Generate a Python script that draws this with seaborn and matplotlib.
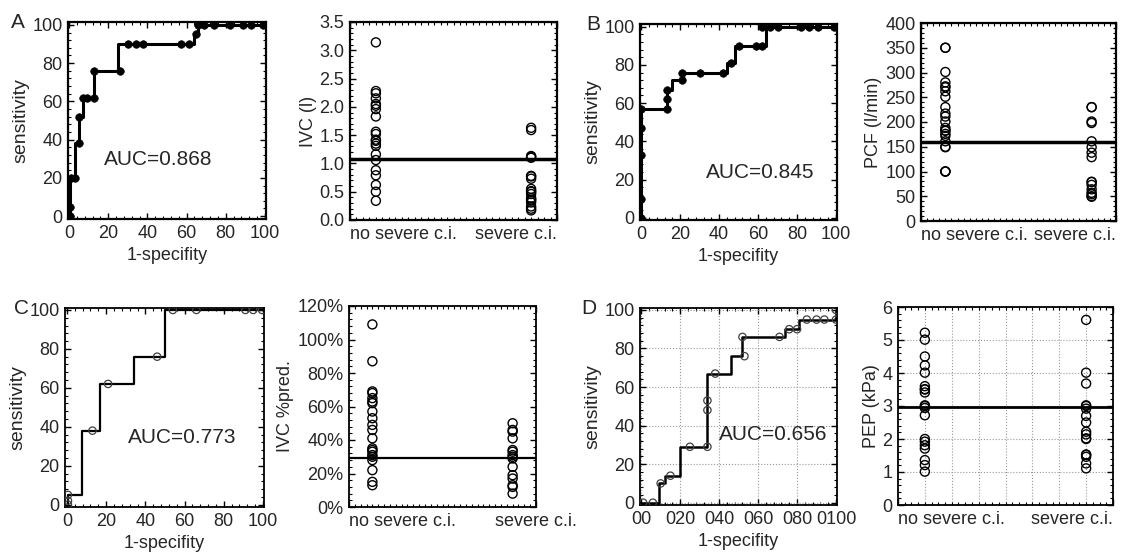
import numpy as np
import pandas as pd
import matplotlib
matplotlib.use("Agg")
import matplotlib.pyplot as plt
import seaborn as sns
from matplotlib.ticker import AutoMinorLocator, MultipleLocator, FuncFormatter

sns.set_theme(style="ticks")
plt.rcParams["font.family"] = ["Liberation Sans", "DejaVu Sans"]

groups = ["no severe c.i.", "severe c.i."]

# ROC step curves (1-specificity, sensitivity) and marked cut-off points
rocA_x = [0.5, 0.5, 3, 3, 5, 5, 7, 7, 13, 13, 25, 25, 64, 64, 66, 66, 100]
rocA_y = [0, 20, 20, 38, 38, 52, 52, 62, 62, 76, 76, 90, 90, 95, 95, 100, 100]
dotA_x = [0.5, 0.5, 1, 3, 5, 5, 7, 9, 13, 13, 26, 30, 34, 38, 57, 61, 65, 66, 69, 74, 82, 89, 93, 99]
dotA_y = [0, 5, 20, 20, 38, 52, 62, 62, 62, 76, 76, 90, 90, 90, 90, 90, 95, 100, 100, 100, 100, 100, 100, 100]
aucA = "AUC=0.868"

rocB_x = [0, 0, 13, 13, 16, 16, 21, 21, 44, 44, 48, 48, 64, 64, 100]
rocB_y = [0, 57, 57, 67, 67, 72, 72, 76, 76, 81, 81, 90, 90, 100, 100]
dotB_x = [0, 0, 0, 0, 0, 13, 13, 13, 21, 21, 30, 42, 46, 50, 59, 62, 62, 66, 70, 82, 86, 91, 99]
dotB_y = [0, 10, 33, 47, 57, 57, 62, 67, 72, 76, 76, 76, 81, 90, 90, 90, 100, 100, 100, 100, 100, 100, 100]
aucB = "AUC=0.845"

rocC_x = [0.5, 0.5, 7.5, 7.5, 17, 17, 34, 34, 50, 50, 100]
rocC_y = [0, 5, 5, 38, 38, 62, 62, 76, 76, 100, 100]
dotC_x = [0.5, 0.5, 0.5, 13, 21, 46, 54, 66, 91, 95, 99.5]
dotC_y = [0, 2, 5, 38, 62, 76, 100, 100, 100, 100, 100]
aucC = "AUC=0.773"

rocD_x = [0, 9, 9, 12, 12, 20, 20, 34, 34, 46, 46, 52, 52, 74, 74, 81, 81, 100, 100]
rocD_y = [0, 0, 10, 10, 14, 14, 29, 29, 67, 67, 76, 76, 86, 86, 90, 90, 95, 95, 100]
dotD_x = [1, 6, 10, 15, 25, 34, 34, 34, 38, 53, 52, 71, 76, 80, 85, 90, 94, 100, 100]
dotD_y = [0, 0, 10, 14, 29, 29, 48, 53, 67, 76, 86, 86, 90, 90, 95, 95, 95, 95, 100]
aucD = "AUC=0.656"
rocD_ticklabels = ["00", "020", "040", "060", "080", "0100"]

# individual patient values per group, plus the cut-off line
ivc_no = [3.14, 2.28, 2.24, 2.15, 2.05, 2.02, 1.96, 1.83, 1.56, 1.52, 1.42, 1.40,
          1.35, 1.31, 1.16, 1.06, 0.88, 0.79, 0.62, 0.50, 0.34]
ivc_sev = [1.63, 1.59, 1.13, 1.12, 1.10, 0.78, 0.77, 0.73, 0.55, 0.51, 0.50, 0.46,
           0.39, 0.36, 0.35, 0.31, 0.24, 0.20, 0.17]
ivc_cut = 1.08

pcf_no = [350, 350, 301, 280, 270, 272, 262, 251, 230, 217, 211, 201, 188, 183,
          182, 176, 172, 161, 149, 150, 100, 100, 100]
pcf_sev = [230, 230, 201, 198, 161, 149, 138, 129, 79, 79, 73, 64, 57, 54, 49, 50]
pcf_cut = 159

ivcp_no = [109, 87, 69, 68, 65, 63, 62, 57, 53, 49, 46, 41, 35, 34, 33, 31, 30,
           28, 22, 15, 13]
ivcp_sev = [50, 46, 45, 41, 34, 33, 31, 30, 29, 24, 19, 17, 13, 12, 8]
ivcp_cut = 29

pep_no = [5.22, 5.01, 4.5, 4.23, 4.01, 3.6, 3.51, 3.50, 3.41, 3.02, 3.0, 2.94,
          2.72, 2.0, 1.92, 1.81, 1.71, 1.36, 1.21, 1.01]
pep_sev = [5.61, 4.01, 3.68, 3.02, 3.0, 2.92, 2.7, 2.5, 2.22, 2.14, 2.02, 2.0,
           1.53, 1.52, 1.46, 1.26, 1.11]
pep_cut = 2.97

W, H = 1124, 552
fig = plt.figure(figsize=(W / 100, H / 100), dpi=100)


def add_ax(x0, y0, x1, y1):
    return fig.add_axes([x0 / W, 1 - y1 / H, (x1 - x0) / W, (y1 - y0) / H])


def box(ax, lw):
    for s in ax.spines.values():
        s.set_visible(True)
        s.set_linewidth(lw)
        s.set_color("black")
    ax.tick_params(which="both", direction="in", top=True, right=True, labelsize=13,
                   color="black", pad=4)
    ax.tick_params(which="major", length=4, width=1)
    ax.tick_params(which="minor", length=2, width=0.8)


def roc_panel(ax, cx, cy, dx, dy, auc, auc_pos, hollow, lw, ylim, xlim):
    sns.lineplot(x=cx, y=cy, sort=False, estimator=None, color="black", lw=lw, ax=ax)
    if hollow:
        sns.scatterplot(x=dx, y=dy, s=28, ax=ax, zorder=3)
        pts = ax.collections[-1]
        pts.set_facecolor("none")
        pts.set_edgecolor("0.25")
        pts.set_linewidth(0.9)
    else:
        sns.scatterplot(x=dx, y=dy, s=30, color="black", edgecolor="black", ax=ax, zorder=3)
    ax.set_xlim(*xlim)
    ax.set_ylim(*ylim)
    ax.set_xticks(range(0, 101, 20))
    ax.set_yticks(range(0, 101, 20))
    ax.xaxis.set_minor_locator(AutoMinorLocator(5))
    ax.yaxis.set_minor_locator(AutoMinorLocator(5))
    ax.set_xlabel("1-specifity", fontsize=13, labelpad=4)
    ax.set_ylabel("sensitivity", fontsize=14, labelpad=2)
    ax.text(auc_pos[0], auc_pos[1], auc, transform=ax.transAxes, fontsize=15,
            ha=auc_pos[2], va="center")


def strip_panel(ax, no, sev, cut, ylabel, ylim, ystep, lw_cut):
    df = pd.DataFrame({"group": [groups[0]] * len(no) + [groups[1]] * len(sev),
                       "value": no + sev})
    ax.axhline(cut, color="black", lw=lw_cut, zorder=2)
    sns.stripplot(data=df, x="group", y="value", order=groups, jitter=False, size=6.5,
                  color="white", edgecolor="black", linewidth=1, ax=ax, zorder=3)
    for c in ax.collections:
        c.set_facecolor("none")
        c.set_edgecolor("black")
    ax.set_ylim(*ylim)
    ax.yaxis.set_major_locator(MultipleLocator(ystep))
    ax.yaxis.set_minor_locator(AutoMinorLocator(5))
    # group names sit flush with the box edges, as in the original figure
    ax.set_xticks([-1 / 6, 7 / 6], groups)
    ax.set_xlim(-1 / 6, 7 / 6)
    ax.xaxis.set_minor_locator(MultipleLocator(1 / 24))
    labs = ax.get_xticklabels()
    labs[0].set_ha("left")
    labs[1].set_ha("right")
    ax.set_xlabel("")
    ax.set_ylabel(ylabel, fontsize=13, labelpad=2)


# A
ax = add_ax(68, 22, 266, 219)
roc_panel(ax, rocA_x, rocA_y, dotA_x, dotA_y, aucA, (0.455, 0.30, "center"), False, 2.2,
          (-1.5, 101.5), (-0.5, 100.5))
box(ax, 1.6)
ax = add_ax(350, 22, 557, 220)
strip_panel(ax, ivc_no, ivc_sev, ivc_cut, "IVC (l)", (0, 3.5), 0.5, 2.5)
ax.yaxis.set_major_formatter(FuncFormatter(lambda v, p: f"{v:.1f}"))
box(ax, 1.6)

# B
ax = add_ax(640, 24, 837, 220)
roc_panel(ax, rocB_x, rocB_y, dotB_x, dotB_y, aucB, (0.61, 0.24, "center"), False, 2.2,
          (-1.2, 101.4), (-0.6, 100.5))
box(ax, 1.6)
ax = add_ax(921, 23, 1116, 221)
strip_panel(ax, pcf_no, pcf_sev, pcf_cut, "PCF (l/min)", (0, 400), 50, 2.5)
box(ax, 1.6)

# C
ax = add_ax(65, 308, 264, 507)
roc_panel(ax, rocC_x, rocC_y, dotC_x, dotC_y, aucC, (0.59, 0.35, "center"), True, 1.6,
          (-1.2, 101), (-1, 100.5))
box(ax, 1.3)
ax = add_ax(349, 306, 536, 507)
strip_panel(ax, ivcp_no, ivcp_sev, ivcp_cut, "IVC %pred.", (0, 120), 20, 1.6)
ax.yaxis.set_major_formatter(FuncFormatter(lambda v, p: f"{v:.0f}%"))
ax.get_xticklabels()[1].set_ha("center")
box(ax, 1.3)

# D
ax = add_ax(640, 308, 837, 505)
ax.grid(True, color="0.6", ls=":", lw=0.8)
roc_panel(ax, rocD_x, rocD_y, dotD_x, dotD_y, aucD, (0.40, 0.36, "left"), True, 1.8,
          (-1.2, 101), (-0.6, 100.5))
ax.set_xticklabels(rocD_ticklabels)
ax.set_axisbelow(True)
box(ax, 1.3)
ax = add_ax(898, 307, 1113, 505)
strip_panel(ax, pep_no, pep_sev, pep_cut, "PEP (kPa)", (0, 6), 1, 2.0)
ax.grid(True, axis="y", color="0.6", ls=":", lw=0.8)
for k in range(1, 8):
    ax.axvline(-1 / 6 + k / 6, color="0.6", ls=":", lw=0.8, zorder=0)
ax.set_axisbelow(True)
box(ax, 1.3)

for letter, x, y in [("A", 11, 23), ("B", 586, 24), ("C", 14, 309), ("D", 581, 309)]:
    fig.text(x / W, 1 - y / H, letter, fontsize=15, va="center", ha="left")

fig.savefig("out.png", dpi=100)
